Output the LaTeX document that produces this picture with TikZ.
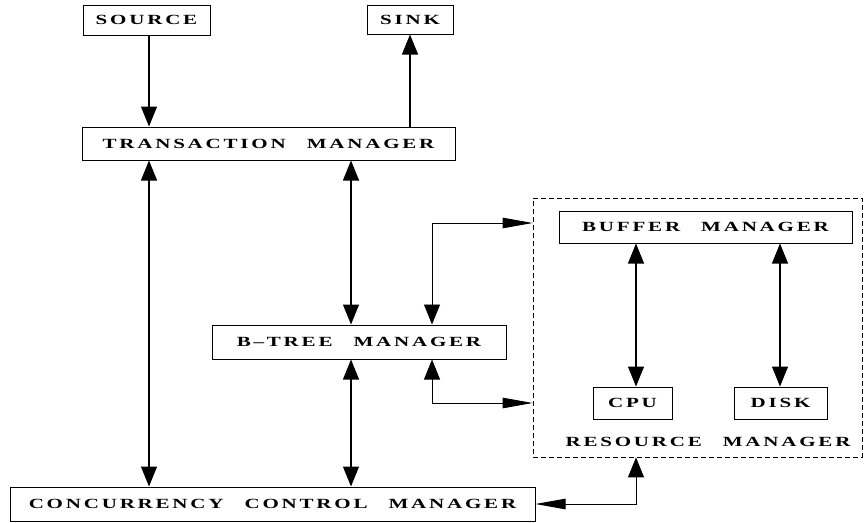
\documentclass[tikz,border=0pt]{standalone}
\usepackage{fontspec}
\setmainfont{Liberation Serif}
\newfontfamily\boxfont[LetterSpace=20, FakeStretch=1.5]{Liberation Serif Bold}
\usetikzlibrary{arrows.meta}

\begin{document}
\begin{tikzpicture}[x=1pt, y=-1pt, line width=1.2pt,
  vtip/.tip={Triangle[length=20pt, width=16pt]},
  htip/.tip={Triangle[length=30pt, width=10.5pt]},
  box node/.style={draw, line width=1pt, inner sep=0pt, font=\fontsize{14}{16}\boxfont},
  thin link/.style={line width=0.9pt}]
  \useasboundingbox (0,0) rectangle (864,522);

  \node[box node, minimum width=127pt, minimum height=30pt] (source) at (146.5,20) {SOURCE};
  \node[box node, minimum width=86pt, minimum height=29pt] (sink) at (410,19.5) {SINK};
  \node[box node, minimum width=373pt, minimum height=33pt] (tm) at (268.5,143.5) {TRANSACTION\hspace{21pt}MANAGER};
  \node[box node, minimum width=294pt, minimum height=34pt] (btree) at (359,342) {B\textendash TREE\hspace{21pt}MANAGER};
  \node[box node, minimum width=525pt, minimum height=34pt] (ccm) at (272.5,504) {CONCURRENCY\hspace{21pt}CONTROL\hspace{21pt}MANAGER};
  \node[box node, dash pattern=on 5pt off 3pt, line width=0.8pt, minimum width=329pt, minimum height=259pt] (rm) at (697.5,327.5) {};
  \node[box node, minimum width=293pt, minimum height=32pt] (buffer) at (705.5,227) {BUFFER\hspace{21pt}MANAGER};
  \node[box node, minimum width=79pt, minimum height=32pt] (cpu) at (632.5,403) {CPU};
  \node[box node, minimum width=93pt, minimum height=32pt] (disk) at (780.5,403) {DISK};
  \node[box node, draw=none] (rmlabel) at (708,442) {RESOURCE\hspace{21pt}MANAGER};

  \coordinate (colA) at (149,0);
  \coordinate (colB) at (351,0);
  \coordinate (colC) at (432,0);
  \coordinate (colD) at (636,0);
  \coordinate (colE) at (780,0);
  \coordinate (rowA) at (0,223);

  \draw[-vtip] (source.south -| colA) -- (tm.north -| colA);
  \draw[-vtip] (tm.north -| sink) -- (sink.south);
  \draw[vtip-vtip] (tm.south -| colA) -- (ccm.north -| colA);
  \draw[vtip-vtip] (tm.south -| colB) -- (btree.north -| colB);
  \draw[vtip-vtip] (btree.south -| colB) -- (ccm.north -| colB);
  \draw[vtip-htip, thin link] (btree.north -| colC) |- (rm.west |- rowA);
  \draw[vtip-htip, thin link] (btree.south -| colC) |- (rm.west |- cpu);
  \draw[vtip-vtip] (buffer.south -| colD) -- (cpu.north -| colD);
  \draw[vtip-vtip] (buffer.south -| colE) -- (disk.north -| colE);
  \draw[htip-vtip, thin link] (ccm.east) -| (rm.south -| colD);
\end{tikzpicture}
\end{document}
